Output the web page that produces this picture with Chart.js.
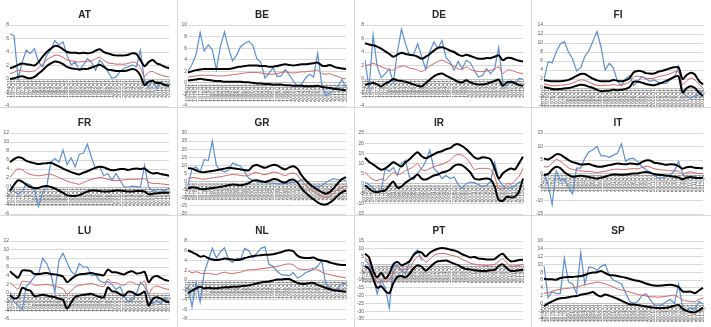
<!DOCTYPE html>
<html><head><meta charset="utf-8">
<script src="https://cdn.jsdelivr.net/npm/chart.js@4.4.1/dist/chart.umd.min.js"></script>
<style>
html,body{margin:0;padding:0;background:#fff;width:711px;height:327px;overflow:hidden;}
.p{position:absolute;box-sizing:border-box;border-right:1px solid #d9d9d9;border-bottom:1px solid #d9d9d9;background:#fff;overflow:hidden;}
.p canvas{display:block;}
</style></head><body>
<script>
const periods = ["1974Q1","1975Q1","1976Q1","1977Q1","1978Q1","1979Q1","1980Q1","1981Q1","1982Q1","1983Q1","1984Q1","1985Q1","1986Q1","1987Q1","1988Q1","1989Q1","1990Q1","1991Q1","1992Q1","1993Q1","1994Q1","1995Q1","1996Q1","1997Q1","1998Q1","1999Q1","2000Q1","2001Q1","2002Q1","2003Q1","2004Q1","2005Q1","2006Q1","2007Q1","2008Q1","2009Q1","2010Q1","2011Q1","2012Q1","2013Q1"];

const AT_actual = [6.7,6.4,0.0,2.5,4.3,3.8,4.5,2.5,1.8,3.5,4.3,5.7,5.0,5.5,3.5,2.1,2.5,1.3,2.1,3.0,2.5,1.3,2.8,2.1,1.1,0.1,0.3,1.1,1.6,1.8,2.1,1.8,4.3,-0.4,-1.1,-0.1,-1.4,-0.6,-0.9,-0.6];
const AT_fit = [0.8,1.0,1.3,1.2,1.1,1.1,1.2,1.6,2.2,2.8,3.2,3.5,3.5,3.2,2.8,2.7,2.6,2.5,2.6,2.6,2.7,3.0,3.2,2.8,2.4,2.3,2.2,2.2,2.2,2.3,2.5,2.4,1.6,0.4,1.0,1.1,0.8,0.6,0.4,0.3];
const AT_upper = [1.6,1.8,2.1,2.3,2.2,2.1,2.0,2.5,3.3,4.0,4.5,4.9,4.8,4.4,4.0,3.9,3.9,3.8,3.9,3.8,3.9,4.2,4.4,4.0,3.8,3.6,3.5,3.5,3.5,3.6,3.8,3.7,2.8,1.9,2.5,2.8,2.3,2.1,1.8,1.6];
const AT_lower = [0.0,0.1,0.3,0.4,0.2,0.1,0.3,0.8,1.3,1.9,2.3,2.6,2.5,2.2,1.8,1.6,1.5,1.4,1.5,1.5,1.7,1.9,2.1,1.8,1.4,1.3,1.2,1.2,1.2,1.3,1.5,1.3,0.5,-0.9,-0.4,-0.3,-0.6,-0.6,-0.9,-1.0];

const BE_actual = [2.0,3.2,4.9,8.7,5.5,6.6,5.7,2.3,6.3,8.8,6.0,3.8,4.8,6.3,6.8,7.2,6.5,4.2,3.5,0.8,1.7,2.6,1.1,1.2,2.3,1.4,0.3,-0.5,-0.3,0.8,1.5,1.0,5.1,-0.2,-2.2,-1.8,-1.2,-0.6,0.6,-0.8];
const BE_fit = [1.0,1.1,1.2,1.3,1.3,1.3,1.3,1.2,1.2,1.2,1.3,1.4,1.5,1.6,1.7,1.8,1.8,1.8,1.7,1.6,1.5,1.5,1.6,1.8,1.9,1.8,1.7,1.8,1.9,1.9,2.0,2.1,2.2,1.6,1.5,1.6,1.3,1.1,0.8,0.7];
const BE_upper = [1.8,2.0,2.2,2.3,2.4,2.4,2.4,2.4,2.4,2.4,2.4,2.5,2.7,2.8,2.9,3.0,3.0,3.0,2.9,2.9,2.8,2.8,2.9,3.1,3.2,3.1,3.0,3.1,3.2,3.2,3.3,3.4,3.5,3.0,2.9,3.1,2.8,2.6,2.5,2.4];
const BE_lower = [0.4,0.5,0.6,0.7,0.6,0.5,0.4,0.3,0.3,0.2,0.2,0.2,0.2,0.2,0.1,0.1,0.0,-0.1,-0.1,-0.2,-0.2,-0.3,-0.3,-0.3,-0.4,-0.4,-0.5,-0.5,-0.5,-0.6,-0.6,-0.6,-0.5,-0.7,-0.8,-0.9,-1.0,-1.1,-1.2,-1.3];

const DE_actual = [2.8,-1.4,6.5,1.9,0.2,0.8,1.5,-0.5,4.0,7.4,5.2,3.5,3.6,5.2,3.3,1.4,4.0,5.5,4.5,5.7,3.2,2.5,1.3,2.6,1.5,2.8,2.4,1.3,0.3,0.5,1.5,0.8,1.5,4.7,-0.6,-1.0,-0.5,-0.8,0.1,0.0];
const DE_fit = [2.0,2.1,2.3,2.1,1.8,1.6,1.4,1.3,1.7,1.9,1.9,1.6,1.5,1.3,1.1,1.5,1.9,2.3,2.6,2.8,2.5,2.2,1.9,1.5,1.4,1.8,1.4,1.2,1.1,1.1,1.2,1.3,1.5,1.8,0.8,1.3,1.3,1.1,0.9,0.8];
const DE_upper = [5.3,5.1,5.0,4.8,4.5,4.1,3.7,3.3,3.6,3.9,3.7,3.6,3.5,3.3,3.0,3.3,3.7,4.2,4.6,4.7,4.5,4.2,4.0,3.6,3.4,3.6,3.4,3.2,3.0,3.0,3.1,3.1,3.3,3.5,2.8,3.1,3.1,2.9,2.7,2.6];
const DE_lower = [-0.9,-0.7,-0.6,-0.8,-1.1,-0.7,-0.4,0.0,-0.2,-0.3,-0.4,-0.6,-0.8,-1.0,-1.1,-0.6,-0.1,0.4,0.7,0.8,0.5,0.2,-0.1,-0.4,-0.5,-0.2,-0.5,-0.7,-0.8,-0.8,-0.7,-0.5,-0.3,-0.1,-1.0,-0.5,-0.4,-0.6,-0.9,-1.0];

const FI_actual = [1.9,5.8,5.6,8.0,9.8,10.3,8.0,6.5,3.8,4.5,7.0,8.3,10.4,12.6,9.0,4.0,5.5,4.5,1.5,0.5,2.0,2.8,0.5,1.5,2.5,2.0,1.5,1.8,1.3,1.0,1.0,2.0,2.3,4.8,-0.8,-1.9,-2.2,-1.8,-1.5,-0.5];
const FI_fit = [0.9,0.7,0.5,0.5,0.6,0.7,0.8,1.1,1.5,1.8,1.7,1.3,0.9,0.6,0.5,0.6,0.6,0.8,0.6,0.7,0.9,1.3,2.5,2.6,2.5,2.2,2.1,2.2,2.5,2.7,2.9,3.2,3.6,3.6,0.8,1.6,2.2,1.8,0.8,0.1];
const FI_upper = [1.7,1.6,1.5,1.5,1.5,1.6,1.8,2.2,2.7,3.1,3.1,2.6,2.1,1.7,1.5,1.5,1.5,1.8,1.6,1.5,1.7,2.2,3.5,3.8,3.7,3.3,3.2,3.2,3.6,3.8,4.1,4.4,4.6,4.6,2.0,2.9,3.4,3.0,1.6,0.8];
const FI_lower = [0.2,0.0,-0.2,-0.3,-0.2,-0.1,0.0,0.2,0.5,0.7,0.6,0.3,0.0,-0.4,-0.7,-0.6,-0.6,-0.4,-0.5,-0.4,-0.2,0.2,1.4,1.4,1.2,0.9,0.7,0.6,0.9,1.2,1.6,2.0,2.5,2.6,-1.0,0.0,0.4,0.0,-1.0,-1.8];

const FR_actual = [0.6,-1.0,-1.5,-1.0,0.8,0.5,-0.8,-4.3,-1.2,0.0,5.5,6.3,5.5,8.2,5.0,6.5,4.5,7.3,7.5,9.5,6.5,4.0,4.5,2.5,3.0,1.5,3.0,1.5,0.0,0.0,0.2,0.1,0.0,4.8,0.0,-0.9,-0.6,-0.6,-0.9,-0.2];
const FR_fit = [2.1,3.3,4.0,3.8,3.2,2.8,2.6,2.5,2.6,2.8,2.8,2.5,2.1,1.7,1.3,1.0,0.8,0.6,1.0,1.4,1.7,1.9,2.1,2.0,1.7,1.5,1.4,1.5,1.6,1.7,1.7,1.7,1.8,1.8,1.1,0.8,0.8,0.7,0.6,0.5];
const FR_upper = [5.5,6.2,6.6,6.4,5.8,5.5,5.3,5.1,5.2,5.3,5.4,5.0,4.6,4.1,3.7,3.3,3.0,2.8,3.2,3.5,3.9,4.3,4.5,4.4,4.0,3.7,3.8,4.0,4.0,3.8,4.0,4.1,4.0,4.1,3.4,3.0,3.1,2.9,2.7,2.5];
const FR_lower = [-0.9,0.5,1.5,1.2,0.5,0.0,-0.2,-0.2,0.1,0.2,0.0,-0.3,-0.8,-1.3,-1.8,-2.0,-2.0,-1.8,-1.4,-1.0,-0.8,-0.8,-0.9,-1.0,-1.0,-0.9,-0.8,-0.8,-0.9,-1.0,-1.0,-0.9,-0.9,-1.0,-1.6,-1.5,-1.4,-1.3,-1.3,-1.3];

const GR_actual = [-2.5,8.0,9.0,6.0,13.5,13.0,25.0,10.0,7.0,6.0,7.0,11.5,10.5,9.5,6.0,2.0,0.8,-0.3,-0.3,-0.5,-0.8,-1.0,-1.2,-1.4,-1.0,-0.8,-0.5,0.0,1.2,1.0,-1.5,-2.8,-3.2,-2.5,-0.5,0.8,1.8,1.0,1.5,0.5];
const GR_fit = [1.7,2.5,2.3,1.7,1.5,1.9,2.3,2.7,3.0,3.5,4.0,4.5,4.2,3.8,3.5,3.8,5.2,5.6,4.8,4.3,5.0,5.8,5.6,4.5,3.7,4.8,5.3,4.0,0.5,-2.0,-4.2,-6.0,-7.5,-9.0,-9.8,-9.0,-7.0,-5.0,-3.5,-3.0];
const GR_upper = [8.3,8.0,7.0,6.0,5.8,6.2,6.5,7.0,7.5,8.0,8.5,8.3,8.0,7.5,7.2,7.0,9.5,10.2,9.3,8.5,9.5,10.3,10.0,8.5,7.5,8.8,9.5,8.0,4.0,1.0,-1.5,-3.5,-5.0,-6.5,-7.5,-6.5,-4.0,-1.0,1.5,2.8];
const GR_lower = [-4.2,-3.5,-3.8,-4.5,-4.7,-4.3,-4.0,-3.7,-3.2,-2.8,-2.2,-1.8,-2.0,-2.2,-1.8,-1.0,0.6,0.8,0.2,-0.2,0.5,1.5,1.3,0.0,-0.6,0.8,1.2,-0.5,-4.0,-6.8,-9.0,-11.0,-12.8,-14.0,-14.2,-13.0,-11.0,-8.5,-6.5,-5.5];

const IR_actual = [0.8,-0.5,-2.0,-4.5,-3.0,7.5,6.0,8.0,4.0,10.0,11.5,3.0,2.0,5.0,7.5,11.0,16.5,7.5,5.5,2.5,4.0,2.5,3.3,-0.5,-2.5,0.0,0.8,0.5,-0.5,-1.5,-0.8,1.0,10.5,2.0,-1.0,-2.5,-2.0,-1.0,0.5,1.5];
const IR_fit = [5.8,3.5,2.0,1.5,2.3,1.7,3.8,5.5,4.5,5.0,6.5,7.3,8.5,9.8,7.0,6.5,7.5,8.3,9.0,9.5,10.5,11.5,13.5,14.5,14.0,12.5,10.0,7.0,7.5,7.5,7.5,7.0,3.5,-2.5,-2.5,0.0,-0.3,1.5,3.5,7.5];
const IR_upper = [12.8,10.8,9.5,8.0,6.8,7.5,9.0,10.5,9.5,8.5,10.5,12.0,14.0,15.5,13.5,12.5,13.5,14.5,15.5,16.0,17.0,17.5,19.0,19.5,18.5,17.0,15.0,13.0,12.3,13.0,12.8,12.0,7.5,2.5,5.0,6.5,7.5,7.0,10.0,13.3];
const IR_lower = [-0.8,-2.5,-3.8,-4.2,-3.7,-3.3,-1.0,1.0,-2.0,-1.5,0.5,1.8,3.0,4.5,2.5,2.0,3.0,4.0,4.5,5.5,6.0,7.0,8.8,9.5,9.0,7.5,5.5,2.5,2.0,2.3,2.5,2.0,-1.5,-8.0,-8.5,-6.5,-6.8,-6.5,-4.0,2.5];

const IT_actual = [0.0,-4.0,-11.5,1.0,-2.5,-2.0,-5.0,-7.5,2.0,2.0,5.6,8.0,8.8,10.0,6.5,6.5,6.0,6.8,7.5,11.0,4.5,5.5,5.6,4.3,2.5,1.5,0.5,-0.6,-1.7,-1.5,-1.2,-0.5,1.0,4.5,0.0,-1.8,-1.5,-1.2,-1.8,-1.2];
const IT_fit = [2.5,2.5,3.8,5.2,4.5,3.3,2.1,1.5,1.3,1.0,0.8,0.7,0.6,0.4,0.6,0.8,1.2,1.5,1.6,1.5,1.5,1.7,1.8,1.7,2.2,2.7,2.4,1.8,1.5,1.3,1.2,1.0,1.0,0.8,-0.3,0.4,0.6,0.2,0.0,0.0];
const IT_upper = [5.6,5.2,6.0,7.1,7.0,6.0,5.0,4.2,3.8,3.3,3.4,3.5,3.0,2.6,2.5,2.8,3.1,3.4,3.7,3.5,3.4,3.7,3.6,3.4,4.2,4.8,4.8,4.0,3.8,3.5,3.2,3.4,3.3,2.7,1.8,2.3,2.5,2.1,2.0,1.9];
const IT_lower = [-0.6,-0.2,1.5,2.5,2.0,0.5,-0.5,-1.2,-1.0,-0.8,-1.0,-1.3,-1.6,-1.9,-1.5,-1.2,-0.7,-0.4,-0.4,-0.5,-0.4,-0.2,0.0,0.0,0.4,0.6,0.3,-0.2,-0.5,-0.6,-0.7,-1.0,-1.2,-1.5,-2.1,-1.5,-1.3,-1.6,-1.7,-1.6];

const LU_actual = [0.2,-2.0,-2.9,-3.8,1.5,2.5,3.8,4.3,8.0,6.8,4.5,0.2,7.5,9.2,7.0,5.0,4.2,6.8,6.0,6.0,4.0,4.2,2.8,2.4,2.6,2.0,0.8,1.5,-0.8,-2.1,-1.4,-0.2,2.5,1.5,-0.5,-2.5,-1.7,-2.5,-1.0,-1.7];
const LU_fit = [2.4,1.6,0.9,2.7,2.6,2.5,1.8,1.8,1.9,2.0,1.8,1.6,1.3,1.0,-0.3,0.5,1.4,1.8,1.9,2.1,2.2,1.9,1.6,1.5,3.2,2.4,2.4,2.0,1.8,2.5,2.5,2.0,2.0,2.8,-0.2,1.2,1.6,1.3,1.0,0.8];
const LU_upper = [5.0,4.2,3.5,5.2,5.2,5.1,4.4,4.4,4.5,4.6,4.4,4.3,4.1,3.8,2.5,3.2,3.9,4.3,4.4,4.5,4.6,4.4,4.2,4.1,5.4,4.8,4.8,4.5,4.3,4.8,5.0,4.5,4.6,4.9,2.5,3.6,3.9,3.5,3.0,2.8];
const LU_lower = [-0.5,-1.2,-1.0,1.2,0.8,0.5,-0.7,-0.6,-0.4,-0.6,-0.8,-1.0,-1.3,-1.6,-3.6,-2.2,-0.9,-0.6,-0.4,-0.3,-0.2,-0.6,-0.9,-1.0,1.3,0.4,0.3,-0.3,-0.6,0.3,0.2,-0.4,-0.3,0.3,-2.9,-1.4,-1.0,-1.3,-1.8,-2.2];

const NL_actual = [-1.2,-5.5,-0.5,-4.5,1.5,4.0,6.5,4.5,5.8,6.6,4.2,3.6,4.5,4.3,6.5,6.0,4.5,5.5,6.5,6.8,3.2,2.8,1.8,1.1,1.0,0.9,1.5,0.4,0.8,1.5,1.8,2.2,2.8,4.0,-0.8,-1.5,-2.1,-1.7,-0.7,-0.8];
const NL_fit = [1.9,1.5,1.7,1.4,1.3,1.4,1.2,1.1,1.4,1.6,1.4,1.3,1.5,1.6,1.9,2.1,2.1,2.2,2.3,2.4,2.5,2.6,2.8,3.0,3.2,3.3,3.1,2.4,2.2,2.1,2.2,2.4,2.1,1.6,1.3,1.1,0.9,0.7,0.6,0.4];
const NL_upper = [6.1,5.7,5.3,4.8,4.9,4.5,4.2,4.1,4.2,4.4,4.3,4.2,4.1,4.2,4.5,4.7,4.9,5.0,5.1,5.2,5.2,5.3,5.5,5.7,6.0,6.1,5.9,5.0,4.6,4.5,4.5,4.6,4.2,4.0,3.9,3.6,3.4,3.2,3.1,3.1];
const NL_lower = [-2.7,-2.2,-1.7,-1.4,-1.7,-1.6,-1.7,-1.7,-1.6,-1.5,-1.5,-1.4,-1.4,-1.3,-1.2,-1.1,-0.9,-0.7,-0.5,-0.4,-0.3,-0.1,0.1,0.1,0.2,0.2,-0.2,-0.6,-0.8,-0.8,-0.6,-0.6,-1.0,-1.3,-1.6,-1.9,-2.1,-2.2,-2.3,-2.4];

const PT_actual = [3.0,0.0,-8.0,-18.8,-10.5,-15.0,-28.0,-1.0,-0.5,-4.0,-6.0,1.5,7.0,9.4,2.5,null,null,null,null,null,null,null,null,null,null,null,null,null,null,null,null,null,null,null,null,null,null,null,null,null];
const PT_fit = [4.2,2.1,-5.0,-12.0,-10.5,-11.0,-10.0,-5.5,-1.5,-3.0,-3.2,-2.5,2.0,5.2,4.3,1.5,3.2,5.8,6.8,6.9,6.8,6.0,5.5,4.5,3.2,2.0,0.8,0.2,-0.2,-0.5,-0.8,-0.4,0.0,2.0,3.5,1.0,-1.0,-1.0,-0.6,0.0];
const PT_upper = [6.9,4.5,-4.0,-8.2,-5.5,-9.0,-6.0,0.0,1.5,-0.5,0.5,2.0,6.0,8.0,7.5,5.0,7.5,9.0,10.0,10.5,10.2,9.5,9.0,8.0,6.5,5.5,4.5,4.8,3.8,3.5,3.2,3.2,3.4,5.5,6.8,4.0,2.0,2.2,2.8,3.0];
const PT_lower = [-1.0,-3.0,-9.0,-15.0,-14.0,-17.0,-18.5,-12.0,-8.0,-7.5,-8.3,-6.0,-2.5,-0.5,-1.5,-4.0,-2.0,0.5,2.0,2.3,2.5,1.5,0.5,-0.5,-2.0,-3.0,-3.2,-3.8,-4.0,-4.2,-4.2,-3.8,-3.5,-1.0,0.0,-2.5,-4.2,-4.2,-3.8,-3.5];

const SP_actual = [9.6,1.5,3.0,2.5,2.5,11.5,5.5,5.0,2.5,13.0,5.0,9.3,9.2,8.5,9.5,10.0,7.3,6.0,5.5,5.0,2.8,0.5,0.0,0.5,2.0,2.5,1.0,-0.3,-0.5,-0.3,0.5,1.0,0.0,5.0,-1.1,-1.9,-1.2,-1.5,0.5,-0.2];
const SP_fit = [2.6,2.7,3.1,3.4,3.6,3.8,3.9,4.0,4.2,4.5,4.8,5.0,5.2,5.5,5.3,5.0,4.6,4.2,3.7,3.4,3.2,2.9,2.6,2.3,2.1,1.9,1.7,1.7,1.6,1.7,1.8,2.0,2.1,1.6,0.9,0.6,0.5,0.4,1.0,1.4];
const SP_upper = [6.3,6.2,6.2,6.1,6.5,6.7,6.8,6.8,6.9,7.0,7.3,7.7,7.9,8.0,8.3,7.8,7.3,7.2,7.0,6.8,6.6,6.3,6.0,5.8,5.5,5.1,4.8,4.6,4.5,4.6,4.7,4.8,4.6,4.2,3.1,3.0,3.0,2.6,3.3,4.0];
const SP_lower = [-0.7,0.0,0.5,1.0,1.3,1.4,1.6,1.8,1.9,2.2,2.4,2.6,2.9,2.2,1.8,2.3,2.0,1.6,1.2,0.7,0.2,-0.2,-0.3,-0.4,-0.6,-0.8,-1.0,-1.1,-1.2,-1.2,-1.1,-0.9,-0.6,-0.4,-1.4,-1.9,-2.2,-2.3,-1.8,-1.1];

const countries = ["AT","BE","DE","FI","FR","GR","IR","IT","LU","NL","PT","SP"];
const yMin  = [-4,-4,-4,-4,-6,-20,-15,-15,-6,-8,-35,-4];
const yMax  = [8,10,8,14,12,30,25,15,12,8,15,16];
const yStep = [2,2,2,2,2,5,5,5,2,2,5,2];
const series = {
  AT:[AT_actual,AT_fit,AT_upper,AT_lower], BE:[BE_actual,BE_fit,BE_upper,BE_lower],
  DE:[DE_actual,DE_fit,DE_upper,DE_lower], FI:[FI_actual,FI_fit,FI_upper,FI_lower],
  FR:[FR_actual,FR_fit,FR_upper,FR_lower], GR:[GR_actual,GR_fit,GR_upper,GR_lower],
  IR:[IR_actual,IR_fit,IR_upper,IR_lower], IT:[IT_actual,IT_fit,IT_upper,IT_lower],
  LU:[LU_actual,LU_fit,LU_upper,LU_lower], NL:[NL_actual,NL_fit,NL_upper,NL_lower],
  PT:[PT_actual,PT_fit,PT_upper,PT_lower], SP:[SP_actual,SP_fit,SP_upper,SP_lower]
};

const FONT = "'Liberation Sans', Arial, sans-serif";
const colLeft = [0,178,355,532];
const rowTop = [0,108,216];

countries.forEach((name,k)=>{
  const c = k%4, r = Math.floor(k/4);
  const w = (c===3) ? 179 : (colLeft[c+1]-colLeft[c]);
  const h = (r===2) ? 111 : 108;
  const div = document.createElement('div');
  div.className='p';
  div.style.left = colLeft[c]+'px'; div.style.top = rowTop[r]+'px';
  div.style.width = w+'px'; div.style.height = h+'px';
  if (c===3) div.style.borderRight='none';
  if (r===2) div.style.borderBottom='none';
  const cw = w-1, ch = (r===2) ? h-4 : h+2;
  const cv = document.createElement('canvas');
  cv.width = cw; cv.height = ch;
  cv.style.width=cw+'px'; cv.style.height=ch+'px';
  div.appendChild(cv);
  document.body.appendChild(div);
  const s = series[name];
  const yw = (c===3) ? 12 : 10;
  new Chart(cv, {
    type:'line',
    data:{
      labels: periods,
      datasets:[
        {data:s[2], borderColor:'#000000', borderWidth:2, pointRadius:0, tension:0.3, order:1},
        {data:s[3], borderColor:'#000000', borderWidth:2, pointRadius:0, tension:0.3, order:1},
        {data:s[1], borderColor:'#d0625f', borderWidth:1, pointRadius:0, tension:0.3, order:2},
        {data:s[0], borderColor:'#5b8fd0', borderWidth:1.2, pointRadius:0, tension:0, order:3}
      ]
    },
    options:{
      responsive:false, animation:false, devicePixelRatio:1,
      layout:{padding:{left:0,right:(c===3?6:8),top:0,bottom:0}},
      plugins:{
        legend:{display:false}, tooltip:{enabled:false},
        title:{display:true, text:name, color:'#262626', font:{family:FONT,size:10,weight:'bold'}, padding:{top:9,bottom:4}}
      },
      scales:{
        x:{
          position:{y:0},
          grid:{display:false, drawTicks:false},
          border:{display:true, color:'#bfbfbf', width:1},
          ticks:{autoSkip:false, minRotation:90, maxRotation:90, padding:1, color:'#595959', font:{family:FONT,size:5}}
        },
        y:{
          min:yMin[k], max:yMax[k],
          grid:{color:'#d9d9d9', lineWidth:1, drawTicks:false},
          border:{display:false},
          ticks:{autoSkip:false, stepSize:yStep[k], padding:1, color:'#595959', font:{family:FONT,size:5}},
          afterFit:(sc)=>{ sc.width = yw; }
        }
      }
    }
  });
});
</script>
</body></html>
